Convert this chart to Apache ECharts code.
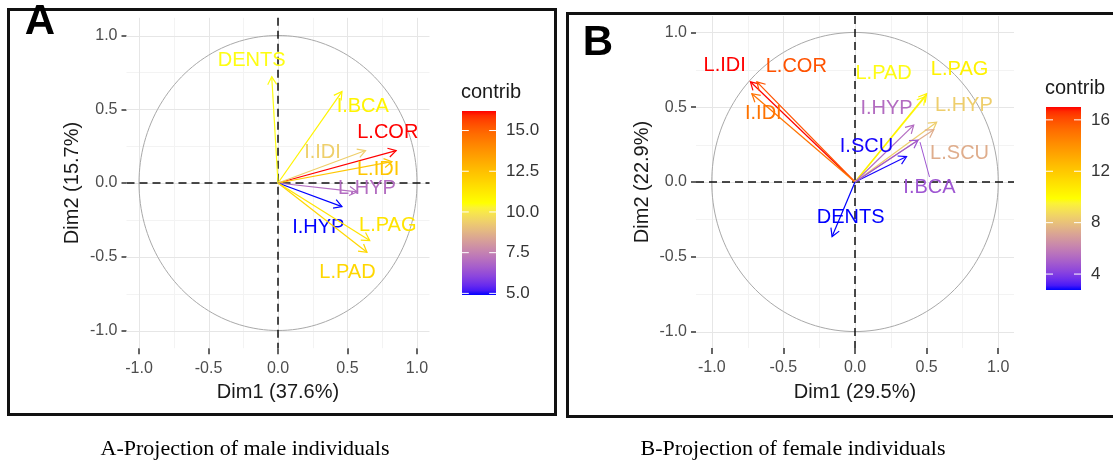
<!DOCTYPE html>
<html>
<head>
<meta charset="utf-8">
<script src="https://cdn.jsdelivr.net/npm/echarts@6/dist/echarts.min.js"></script>
<style>
  html, body { margin: 0; padding: 0; background: #ffffff; }
  #chart { width: 1113px; height: 461px; }
</style>
</head>
<body>
<div id="chart"></div>
<script>
// ---- Correlation circle, male sample (Dim1 37.6 %, Dim2 15.7 %) ----
const varsA    = ['DENTS', 'I.BCA', 'L.COR', 'I.IDI', 'L.IDI', 'L.HYP', 'I.HYP', 'L.PAG', 'L.PAD'];
const dim1A    = [-0.045, 0.46, 0.85, 0.63, 0.82, 0.57, 0.46, 0.66, 0.64];
const dim2A    = [0.72, 0.62, 0.22, 0.22, 0.145, -0.06, -0.16, -0.39, -0.47];
const contribA = [10.5, 10.9, 16.2, 9.4, 12.3, 7.0, 4.9, 11.4, 11.8];
const labelXA  = [-0.19, 0.61, 0.79, 0.32, 0.72, 0.64, 0.29, 0.79, 0.50];
const labelYA  = [0.83, 0.52, 0.34, 0.21, 0.09, -0.035, -0.30, -0.285, -0.61];

// ---- Correlation circle, female sample (Dim1 29.5 %, Dim2 22.9 %) ----
const varsB    = ['L.IDI', 'L.COR', 'I.IDI', 'L.PAD', 'L.PAG', 'I.HYP', 'L.HYP', 'I.SCU', 'L.SCU', 'I.BCA', 'DENTS'];
const dim1B    = [-0.73, -0.685, -0.72, 0.49, 0.50, 0.41, 0.57, 0.36, 0.55, 0.44, -0.16];
const dim2B    = [0.67, 0.67, 0.59, 0.57, 0.59, 0.38, 0.40, 0.17, 0.35, 0.28, -0.365];
const contribB = [17.0, 15.9, 15.0, 9.8, 10.4, 5.4, 8.4, 2.8, 7.4, 4.7, 2.76];
const labelXB  = [-0.91, -0.41, -0.64, 0.20, 0.73, 0.22, 0.76, 0.08, 0.73, 0.52, -0.03];
const labelYB  = [0.78, 0.775, 0.46, 0.725, 0.75, 0.49, 0.51, 0.235, 0.19, -0.04, -0.24];
const linkedB  = ['I.BCA'];           // labels joined to their arrow by a segment

// ---- Axis and legend ticks ----
const axisTicks    = [-1, -0.5, 0, 0.5, 1];
const majorGrid    = [-1, -0.5, 0, 0.5, 1];
const minorGrid    = [-0.75, -0.25, 0.25, 0.75];
const legendTicksA = [5, 7.5, 10, 12.5, 15];
const legendTicksB = [4, 8, 12, 16];
const rampHex      = ['#0000FF', '#FFFF00', '#FF0000'];

const SANS = 'Liberation Sans, Arial, sans-serif';

// ---- blue -> yellow -> red gradient, interpolated in CIE Lab ----
const WX = 0.95047, WY = 1.0, WZ = 1.08883;
function lin(c) { return c <= 0.04045 ? c / 12.92 : Math.pow((c + 0.055) / 1.055, 2.4); }
function unlin(c) { return c <= 0.0031308 ? 12.92 * c : 1.055 * Math.pow(c, 1 / 2.4) - 0.055; }
function fLab(t) { return t > 0.008856 ? Math.cbrt(t) : 7.787 * t + 16 / 116; }
function fInv(t) { const t3 = t * t * t; return t3 > 0.008856 ? t3 : (t - 16 / 116) / 7.787; }
function toLab(hex) {
  const [r, g, b] = [1, 3, 5].map(i => lin(parseInt(hex.substr(i, 2), 16) / 255));
  const X = (0.4124 * r + 0.3576 * g + 0.1805 * b) / WX;
  const Y = (0.2126 * r + 0.7152 * g + 0.0722 * b) / WY;
  const Z = (0.0193 * r + 0.1192 * g + 0.9505 * b) / WZ;
  const fx = fLab(X), fy = fLab(Y), fz = fLab(Z);
  return [116 * fy - 16, 500 * (fx - fy), 200 * (fy - fz)];
}
function fromLab(L, a, b) {
  const fy = (L + 16) / 116, fx = fy + a / 500, fz = fy - b / 200;
  const X = fInv(fx) * WX, Y = fInv(fy) * WY, Z = fInv(fz) * WZ;
  const rgb = [
    3.2406 * X - 1.5372 * Y - 0.4986 * Z,
    -0.9689 * X + 1.8758 * Y + 0.0415 * Z,
    0.0557 * X - 0.2040 * Y + 1.0570 * Z
  ];
  return '#' + rgb.map(c => {
    const v = Math.min(1, Math.max(0, unlin(Math.max(0, c))));
    return Math.round(v * 255).toString(16).padStart(2, '0');
  }).join('');
}
const rampLab = rampHex.map(toLab);
function rampColor(t) {
  t = Math.min(1, Math.max(0, t));
  const n = rampLab.length - 1;
  const seg = Math.min(n - 1, Math.floor(t * n));
  const u = t * n - seg;
  const p = rampLab[seg], q = rampLab[seg + 1];
  return fromLab(p[0] + (q[0] - p[0]) * u, p[1] + (q[1] - p[1]) * u, p[2] + (q[2] - p[2]) * u);
}

// ---- panel backdrop: grid lines, unit circle, dashed origin lines ----
function backdrop(params, api) {
  const cs = params.coordSys;
  const kids = [];
  const addGrid = (vals, color) => vals.forEach(v => {
    const px = Math.round(api.coord([v, 0])[0]) + 0.5;
    const py = Math.round(api.coord([0, v])[1]) + 0.5;
    kids.push({ type: 'line', shape: { x1: px, y1: cs.y, x2: px, y2: cs.y + cs.height }, style: { stroke: color, lineWidth: 1 } });
    kids.push({ type: 'line', shape: { x1: cs.x, y1: py, x2: cs.x + cs.width, y2: py }, style: { stroke: color, lineWidth: 1 } });
  });
  addGrid(minorGrid, '#f3f3f3');
  addGrid(majorGrid, '#e6e6e6');
  const pts = [];
  for (let k = 0; k <= 360; k += 2) {
    const a = k * Math.PI / 180;
    pts.push(api.coord([Math.cos(a), Math.sin(a)]));
  }
  kids.push({ type: 'polyline', shape: { points: pts }, style: { stroke: '#a9a9a9', lineWidth: 1, fill: null } });
  const o = api.coord([0, 0]);
  kids.push({ type: 'line', shape: { x1: cs.x, y1: o[1], x2: cs.x + cs.width, y2: o[1] }, style: { stroke: '#111', lineWidth: 1.5, lineDash: [8, 5] } });
  kids.push({ type: 'line', shape: { x1: o[0], y1: cs.y, x2: o[0], y2: cs.y + cs.height }, style: { stroke: '#111', lineWidth: 1.5, lineDash: [8, 5] } });
  return { type: 'group', children: kids };
}

// ---- arrows with open heads and their labels ----
function makeArrows(names, contrib, linked) {
  const lo = Math.min(...contrib), hi = Math.max(...contrib);
  return function (params, api) {
    const x = api.value(0), y = api.value(1), c = api.value(2);
    const lx = api.value(3), ly = api.value(4);
    const name = names[params.dataIndex];
    const col = rampColor((c - lo) / (hi - lo));
    const o = api.coord([0, 0]), p = api.coord([x, y]), l = api.coord([lx, ly]);
    const ang = Math.atan2(p[1] - o[1], p[0] - o[0]);
    const hl = 9, sp = Math.PI / 6;
    const h1 = [p[0] - hl * Math.cos(ang - sp), p[1] - hl * Math.sin(ang - sp)];
    const h2 = [p[0] - hl * Math.cos(ang + sp), p[1] - hl * Math.sin(ang + sp)];
    const kids = [
      { type: 'line', shape: { x1: o[0], y1: o[1], x2: p[0], y2: p[1] }, style: { stroke: col, lineWidth: 1.2 } },
      { type: 'polyline', shape: { points: [h1, p, h2] }, style: { stroke: col, lineWidth: 1.2, fill: null } }
    ];
    if (linked.indexOf(name) >= 0) {
      kids.push({ type: 'line', shape: { x1: l[0], y1: l[1] - 11, x2: p[0] + 2, y2: p[1] + 2 }, style: { stroke: col, lineWidth: 1 } });
    }
    kids.push({
      type: 'text', x: l[0], y: l[1],
      style: { text: name, fill: col, font: '20px ' + SANS, align: 'center', verticalAlign: 'middle', textAlign: 'center', textVerticalAlign: 'middle' }
    });
    return { type: 'group', children: kids };
  };
}

function xAxisCfg(gi, name, range) {
  return {
    type: 'value', gridIndex: gi, min: -range, max: range,
    name: name, nameLocation: 'middle', nameGap: 34,
    nameTextStyle: { fontSize: 20, color: '#1a1a1a', fontFamily: SANS },
    axisLine: { show: false, onZero: false },
    axisTick: { show: true, customValues: axisTicks, length: 6, lineStyle: { color: '#333', width: 1.5 } },
    axisLabel: { customValues: axisTicks, formatter: v => v.toFixed(1), fontSize: 16, color: '#4d4d4d', margin: 12, fontFamily: SANS },
    splitLine: { show: false }
  };
}
function yAxisCfg(gi, name, range) {
  return {
    type: 'value', gridIndex: gi, min: -range, max: range,
    name: name, nameLocation: 'middle', nameGap: 44,
    nameTextStyle: { fontSize: 20, color: '#1a1a1a', fontFamily: SANS },
    axisLine: { show: false, onZero: false },
    axisTick: { show: true, customValues: axisTicks, length: 5, lineStyle: { color: '#333', width: 1.5 } },
    axisLabel: { customValues: axisTicks, formatter: v => v.toFixed(1), fontSize: 16, color: '#4d4d4d', margin: 9, fontFamily: SANS },
    splitLine: { show: false }
  };
}

// ---- colour bar legend ----
function colorBar(left, top, w, h, contrib, ticks, digits, titleY) {
  const lo = Math.min(...contrib), hi = Math.max(...contrib);
  const stops = [];
  for (let i = 0; i <= 40; i++) stops.push({ offset: i / 40, color: rampColor(i / 40) });
  const els = [{
    type: 'rect', shape: { x: left, y: top, width: w, height: h },
    style: { fill: { type: 'linear', x: 0, y: 1, x2: 0, y2: 0, colorStops: stops } }
  }];
  ticks.forEach(v => {
    const y = top + h * (hi - v) / (hi - lo);
    els.push({ type: 'line', shape: { x1: left, y1: y, x2: left + w * 0.2, y2: y }, style: { stroke: '#fff', lineWidth: 1 } });
    els.push({ type: 'line', shape: { x1: left + w * 0.8, y1: y, x2: left + w, y2: y }, style: { stroke: '#fff', lineWidth: 1 } });
    els.push({ type: 'text', x: left + w + 10, y: y,
      style: { text: v.toFixed(digits), fill: '#333', font: '17px ' + SANS, align: 'left', verticalAlign: 'middle', textAlign: 'left', textVerticalAlign: 'middle' } });
  });
  els.push({ type: 'text', x: left - 1, y: titleY,
    style: { text: 'contrib', fill: '#1a1a1a', font: '20px ' + SANS, align: 'left', verticalAlign: 'middle', textAlign: 'left', textVerticalAlign: 'middle' } });
  return els;
}

function txt(x, y, s, font, align, fill) {
  return { type: 'text', x: x, y: y, z: 10,
    style: { text: s, fill: fill || '#000', font: font, align: align, verticalAlign: 'middle', textAlign: align, textVerticalAlign: 'middle' } };
}

const chart = echarts.init(document.getElementById('chart'));
chart.setOption({
  backgroundColor: '#ffffff',
  animation: false,
  grid: [
    { left: 126.5, top: 17.8, width: 303, height: 330.4 },
    { left: 696, top: 16, width: 318, height: 332 }
  ],
  xAxis: [xAxisCfg(0, 'Dim1 (37.6%)', 1.09), xAxisCfg(1, 'Dim1 (29.5%)', 1.11)],
  yAxis: [yAxisCfg(0, 'Dim2 (15.7%)', 1.12), yAxisCfg(1, 'Dim2 (22.9%)', 1.11)],
  series: [
    { type: 'custom', xAxisIndex: 0, yAxisIndex: 0, silent: true, z: 1, data: [[0, 0]], renderItem: backdrop },
    { type: 'custom', xAxisIndex: 0, yAxisIndex: 0, silent: true, z: 3,
      data: varsA.map((n, i) => [dim1A[i], dim2A[i], contribA[i], labelXA[i], labelYA[i]]),
      renderItem: makeArrows(varsA, contribA, []) },
    { type: 'custom', xAxisIndex: 1, yAxisIndex: 1, silent: true, z: 1, data: [[0, 0]], renderItem: backdrop },
    { type: 'custom', xAxisIndex: 1, yAxisIndex: 1, silent: true, z: 3,
      data: varsB.map((n, i) => [dim1B[i], dim2B[i], contribB[i], labelXB[i], labelYB[i]]),
      renderItem: makeArrows(varsB, contribB, linkedB) }
  ],
  graphic: {
    elements: [
      { type: 'rect', z: 5, shape: { x: 8.5, y: 9.5, width: 547, height: 405 }, style: { fill: null, stroke: '#111', lineWidth: 3 } },
      { type: 'rect', z: 5, shape: { x: 567.5, y: 13.5, width: 560, height: 403 }, style: { fill: null, stroke: '#111', lineWidth: 3 } },
      ...colorBar(462, 111, 34, 184, contribA, legendTicksA, 1, 92),
      ...colorBar(1046, 107, 35, 183, contribB, legendTicksB, 0, 88),
      txt(40, 22, 'A', 'bold 42px Liberation Sans Narrow, Liberation Sans, sans-serif', 'center'),
      txt(598, 43, 'B', 'bold 42px Liberation Sans Narrow, Liberation Sans, sans-serif', 'center'),
      txt(245, 449, 'A-Projection of male individuals', '22px Liberation Serif, Times New Roman, serif', 'center'),
      txt(793, 449, 'B-Projection of female individuals', '22px Liberation Serif, Times New Roman, serif', 'center')
    ]
  }
});
</script>
</body>
</html>
